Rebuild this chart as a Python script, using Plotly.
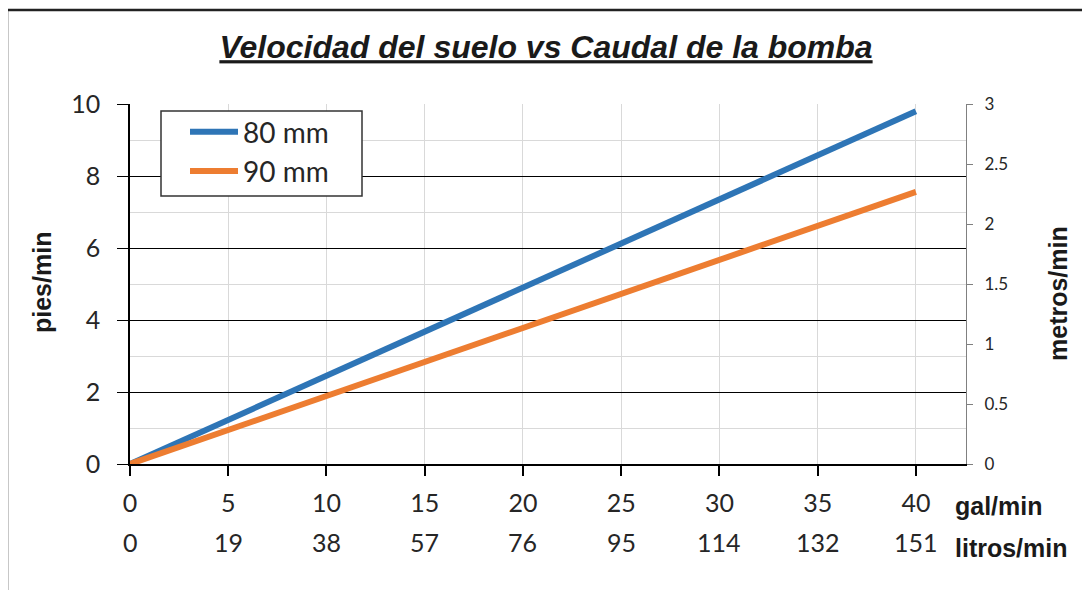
import plotly.graph_objects as go

# Data
gal_min = [0, 5, 10, 15, 20, 25, 30, 35, 40]
litros_min = ["0", "19", "38", "57", "76", "95", "114", "132", "151"]
v_80mm = [0, 1.22, 2.45, 3.67, 4.90, 6.12, 7.35, 8.57, 9.80]
v_90mm = [0, 0.945, 1.89, 2.84, 3.78, 4.73, 5.67, 6.62, 7.56]
series_names = ["80 mm", "90 mm"]
colors = ["#2e75b6", "#ed7d31"]

OFF = 8  # page body margin
W, H = 1090 - OFF, 590 - OFF
# plot area in screen pixels
L, R, T, B = 130, 966, 104, 464
pw, ph = R - L, B - T


def px(x):
    return (x - L) / pw


def py(y):
    return (B - y) / ph


FONT = "Lato"
TXT = "#262626"
BOLD = "Liberation Sans"

fig = go.Figure()
for name, vals, col in zip(series_names, [v_80mm, v_90mm], colors):
    fig.add_trace(go.Scatter(
        x=gal_min, y=vals, name=name, mode="lines",
        line=dict(color=col, width=6), legendgroup=name,
    ))
# invisible trace to activate right axis
fig.add_trace(go.Scatter(x=[0], y=[0], yaxis="y2", mode="markers",
                         marker=dict(opacity=0), showlegend=False, hoverinfo="skip"))

fig.update_layout(
    width=W, height=H,
    margin=dict(l=L - OFF, r=W - (R - OFF), t=T - OFF, b=H - (B - OFF)),
    paper_bgcolor="white", plot_bgcolor="white",
    font=dict(family=FONT, color=TXT),
    title=dict(
        text="Velocidad del suelo vs Caudal de la bomba",
        x=px(546), xanchor="center", xref="paper",
        y=1 - (47 - OFF) / H, yanchor="middle",
        font=dict(family=BOLD, size=32, weight="bold", style="italic",
                  lineposition="under", color="#1a1a1a"),
    ),
    xaxis=dict(
        range=[0, 42.55], tickvals=gal_min, ticktext=[str(v) for v in gal_min],
        showgrid=True, gridcolor="#d9d9d9", gridwidth=1,
        showline=True, linecolor="black", linewidth=1.5,
        ticks="outside", ticklen=10, tickcolor="black", tickwidth=1.5,
        tickfont=dict(size=25, color=TXT), ticklabelstandoff=6,
        zeroline=False,
    ),
    yaxis=dict(
        range=[0, 10], dtick=2, tick0=0,
        showgrid=True, gridcolor="black", gridwidth=1.2,
        minor=dict(dtick=1, showgrid=True, gridcolor="#d9d9d9", gridwidth=1),
        showline=True, linecolor="black", linewidth=1.5,
        ticks="outside", ticklen=11, tickcolor="black",
        tickfont=dict(size=25, color=TXT), ticklabelstandoff=12,
        zeroline=False,
    ),
    yaxis2=dict(
        range=[0, 3], dtick=0.5, tick0=0, overlaying="y", side="right",
        showgrid=False, showline=True, linecolor="#808080", linewidth=1,
        ticks="outside", ticklen=6, tickcolor="#808080",
        tickfont=dict(size=17, color=TXT), ticklabelstandoff=8,
        zeroline=False,
    ),
    legend=dict(
        x=px(185), y=py(107), xanchor="left", yanchor="top",
        bgcolor="rgba(0,0,0,0)", borderwidth=0,
        font=dict(size=28, color=TXT), tracegroupgap=0,
        itemwidth=48,
    ),
    showlegend=True,
)

# outer border (extends off-canvas at right and bottom)
fig.add_shape(type="rect", xref="paper", yref="paper",
              x0=px(7), x1=px(1110), y0=py(10), y1=py(610),
              line=dict(color="#222222", width=2.5), layer="below")
# legend frame
fig.add_shape(type="rect", xref="paper", yref="paper",
              x0=px(161), x1=px(362), y0=py(111), y1=py(196),
              line=dict(color="#333333", width=1.5), fillcolor="white", layer="above")

# second row of x tick labels (litros/min)
for g, l in zip(gal_min, litros_min):
    fig.add_annotation(x=g, xref="x", y=py(542), yref="paper", text=l,
                       showarrow=False, font=dict(size=25, color=TXT),
                       xanchor="center", yanchor="middle")

# unit labels
fig.add_annotation(x=px(953), xref="paper", y=py(506), yref="paper",
                   text="<b>gal/min</b>", showarrow=False, xanchor="left", yanchor="middle",
                   font=dict(family=BOLD, size=25, color="#1a1a1a"))
fig.add_annotation(x=px(953), xref="paper", y=py(548), yref="paper",
                   text="<b>litros/min</b>", showarrow=False, xanchor="left", yanchor="middle",
                   font=dict(family=BOLD, size=25, color="#1a1a1a"))
# axis titles
fig.add_annotation(x=px(42), xref="paper", y=py(283), yref="paper",
                   text="<b>pies/min</b>", showarrow=False, textangle=-90,
                   xanchor="center", yanchor="middle",
                   font=dict(family=BOLD, size=25, color="#1a1a1a"))
fig.add_annotation(x=px(1058), xref="paper", y=py(294), yref="paper",
                   text="<b>metros/min</b>", showarrow=False, textangle=-90,
                   xanchor="center", yanchor="middle",
                   font=dict(family=BOLD, size=25, color="#1a1a1a"))

fig.write_html("out.html")
